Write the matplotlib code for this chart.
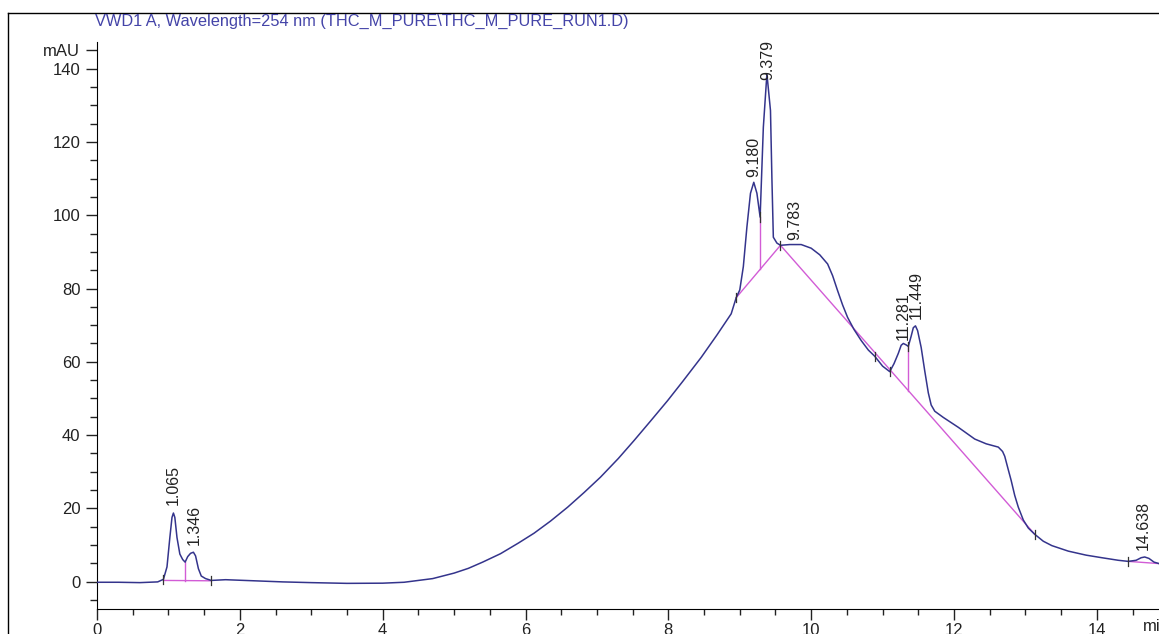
import matplotlib
matplotlib.use("Agg")
import matplotlib.pyplot as plt
from matplotlib.lines import Line2D
from matplotlib.ticker import MultipleLocator

plt.rcParams["font.family"] = ["Liberation Sans", "DejaVu Sans"]

# signal trace (time in min, absorbance in mAU)
time = [0.0, 0.3, 0.6, 0.85, 0.93, 0.98, 1.02, 1.05, 1.07, 1.09, 1.12, 1.16, 1.20,
        1.234, 1.27, 1.31, 1.35, 1.38, 1.42, 1.46, 1.52, 1.6, 1.8, 2.2, 2.6, 3.0,
        3.5, 4.0, 4.3, 4.7, 5.0, 5.2, 5.4, 5.65, 5.9, 6.12, 6.35, 6.59, 6.82, 7.05,
        7.3, 7.52, 7.75, 7.99, 8.2, 8.46, 8.68, 8.88, 8.95, 9.0, 9.05, 9.1, 9.15,
        9.196, 9.24, 9.285, 9.33, 9.38, 9.43, 9.45, 9.47, 9.52, 9.57, 9.7, 9.86,
        10.0, 10.12, 10.23, 10.3, 10.37, 10.44, 10.51, 10.6, 10.7, 10.8, 10.89,
        11.0, 11.1, 11.16, 11.22, 11.26, 11.29, 11.33, 11.36, 11.4, 11.43, 11.46,
        11.49, 11.54, 11.59, 11.64, 11.68, 11.73, 11.85, 12.06, 12.29, 12.45,
        12.62, 12.68, 12.71, 12.76, 12.8, 12.85, 12.9, 12.97, 13.04, 13.13, 13.25,
        13.37, 13.6, 13.85, 14.07, 14.3, 14.44, 14.55, 14.62, 14.67, 14.73, 14.8,
        14.87]
signal = [-0.2, -0.2, -0.3, -0.1, 0.6, 4.0, 12.0, 17.5, 18.7, 17.5, 12.0, 7.5, 6.0,
          5.3, 6.8, 7.7, 8.0, 7.0, 3.5, 1.5, 0.8, 0.3, 0.5, 0.2, -0.1, -0.3,
          -0.5, -0.45, -0.2, 0.8, 2.3, 3.6, 5.3, 7.6, 10.5, 13.2, 16.5, 20.3, 24.3, 28.5,
          33.6, 38.5, 43.8, 49.4, 54.6, 61.2, 67.3, 73.1, 77.5, 79.6, 86.0, 96.8, 106.0,
          109.0, 106.0, 99.5, 124.0, 138.6, 128.6, 110.0, 94.0, 92.4, 91.8, 92.0, 92.0,
          91.0, 89.2, 86.7, 83.5, 79.4, 75.5, 72.1, 68.8, 65.8, 63.2, 61.5,
          58.8, 57.3, 59.5, 62.3, 64.5, 65.0, 64.6, 64.2, 67.0, 69.3, 69.8,
          68.5, 63.9, 57.5, 51.5, 48.2, 46.5, 44.8, 42.1, 38.9, 37.6,
          36.7, 35.5, 34.2, 30.5, 27.6, 23.5, 20.3, 16.8, 14.6, 12.9, 11.0,
          9.8, 8.3, 7.2, 6.5, 5.8, 5.5, 5.8, 6.5, 6.7, 6.3, 5.3,
          4.9]

# integration baselines (vertices) and drop lines
baselines = [
    ([0.93, 1.6], [0.3, 0.2]),
    ([8.95, 9.57, 13.13], [77.5, 91.8, 12.9]),
    ([14.44, 14.87], [5.5, 4.9]),
]
drop_t = [1.234, 9.285, 11.36]
drop_lo = [0.25, 85.2, 52.1]
drop_hi = [5.3, 99.5, 64.2]

# peak event marks on the trace
mark_t = [0.93, 1.6, 8.95, 9.285, 9.57, 10.89, 11.1, 11.36, 13.13, 14.44]
mark_y = [0.6, 0.3, 77.5, 99.5, 91.8, 61.5, 57.3, 64.2, 12.9, 5.5]

# retention time labels
peak_labels = ["1.065", "1.346", "9.180", "9.379", "9.783", "11.281", "11.449", "14.638"]
label_t = [1.07, 1.36, 9.19, 9.39, 9.77, 11.29, 11.47, 14.65]
label_y = [20.9, 10.0, 110.4, 137.0, 93.2, 65.9, 71.8, 8.6]

trace_color = "#34348c"
base_color = "#d25cd6"
txt_color = "#222222"

fig = plt.figure(figsize=(11.59, 6.34), dpi=100)
ax = fig.add_axes([97 / 1159, 25 / 634, 1 - 97 / 1159, 567 / 634])

for bt, by in baselines:
    ax.plot(bt, by, color=base_color, lw=1.0, zorder=2)
for t, lo, hi in zip(drop_t, drop_lo, drop_hi):
    ax.plot([t, t], [lo, hi], color=base_color, lw=1.0, zorder=2)

ax.plot(time, signal, color=trace_color, lw=1.1, zorder=3)

for t, y in zip(mark_t, mark_y):
    ax.plot([t, t], [y - 1.3, y + 1.3], color="#333333", lw=0.9, zorder=4)

for txt, t, y in zip(peak_labels, label_t, label_y):
    ax.text(t, y, txt, rotation=90, ha="center", va="bottom", fontsize=11.5,
            color=txt_color, clip_on=False, zorder=5)

ax.set_xlim(0, 14.87)
ax.set_ylim(-7.5, 147.3)
for side in ["top", "right"]:
    ax.spines[side].set_visible(False)

ax.xaxis.set_major_locator(MultipleLocator(2))
ax.xaxis.set_minor_locator(MultipleLocator(0.5))
ax.set_yticks([0, 20, 40, 60, 80, 100, 120, 140, 145])
ax.set_yticklabels(["0", "20", "40", "60", "80", "100", "120", "140", "mAU"])
ax.yaxis.set_minor_locator(MultipleLocator(5))
ax.tick_params(which="major", length=8, width=1.0, labelsize=12, colors=txt_color, pad=2)
ax.tick_params(which="minor", length=4, width=1.0, colors=txt_color)
ax.tick_params(axis="y", which="minor", length=5)
ax.tick_params(axis="y", which="major", pad=4)

ax.annotate("min", xy=(14.65, 0), xycoords=("data", "axes fraction"),
            xytext=(0, -7.5), textcoords="offset points", ha="left", va="top",
            fontsize=12, color=txt_color, annotation_clip=False)

fig.text(95 / 1159, 1 - 21 / 634, "VWD1 A, Wavelength=254 nm (THC_M_PURE\\THC_M_PURE_RUN1.D)",
         ha="left", va="center", fontsize=11.8, color="#4444a8")

# outer frame around the plot window
fig.add_artist(Line2D([8 / 1159, 8 / 1159], [0, 1 - 13 / 634], transform=fig.transFigure,
                      color="black", lw=1.0))
fig.add_artist(Line2D([8 / 1159, 1], [1 - 13 / 634, 1 - 13 / 634], transform=fig.transFigure,
                      color="black", lw=1.0))

fig.savefig("out.png", dpi=100)
